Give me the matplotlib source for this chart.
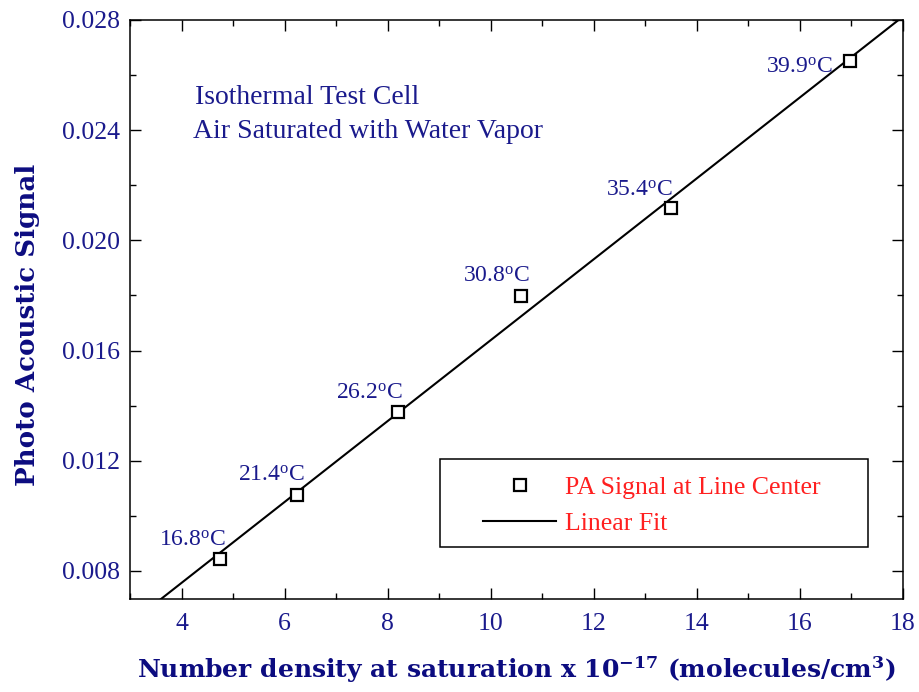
import numpy as np
import matplotlib.pyplot as plt
from matplotlib.ticker import MultipleLocator
from matplotlib.patches import Rectangle

plt.rcParams['mathtext.default'] = 'regular'

# saturation number density (x 1e17 molecules/cm^3) and PA signal
density = [4.75, 6.24, 8.21, 10.58, 13.49, 16.98]
signal = [0.00844, 0.01076, 0.01376, 0.01798, 0.02118, 0.02651]
temps = ['16.8', '21.4', '26.2', '30.8', '35.4', '39.9']

# label offsets in pixels from each point
offsets = [(6, 8), (8, 9), (4, 9), (9, 9), (2, 7), (-18, -17)]

navy = '#1a1a8c'
dark = '#0c0c80'
thin = 'Liberation Serif'

fig = plt.figure(figsize=(9.2, 6.92), dpi=100)
ax = fig.add_axes([0.1413, 0.1344, 0.8402, 0.8367])

# linear fit through the measured points
slope, icpt = np.polyfit(density, signal, 1)
xf = np.array([3.0, 18.0])
fit, = ax.plot(xf, slope * xf + icpt, color='black', lw=1.5, label='Linear Fit', zorder=2)
pts, = ax.plot(density, signal, ls='none', marker='s', ms=8, mfc='white', mec='black',
               mew=1.6, label='PA Signal at Line Center', zorder=3)

for x, y, t, (dx, dy) in zip(density, signal, temps, offsets):
    ax.annotate(t + '$^{o}$C', (x, y), xytext=(dx, dy), textcoords='offset pixels',
                ha='right', va='bottom', color=navy, family=thin, fontsize=17)

ax.text(0.084, 0.867, 'Isothermal Test Cell', transform=ax.transAxes,
        color=navy, family=thin, fontsize=20, va='center')
ax.text(0.081, 0.808, 'Air Saturated with Water Vapor', transform=ax.transAxes,
        color=navy, family=thin, fontsize=20, va='center')

ax.set_xlim(3, 18)
ax.set_ylim(0.00698, 0.028)
ax.xaxis.set_major_locator(MultipleLocator(2))
ax.xaxis.set_minor_locator(MultipleLocator(1))
ax.yaxis.set_major_locator(MultipleLocator(0.004))
ax.yaxis.set_minor_locator(MultipleLocator(0.002))
ax.yaxis.set_major_formatter(plt.FuncFormatter(lambda v, p: '%.3f' % v))

ax.tick_params(which='both', direction='in', top=True, right=True,
               labelcolor=navy, labelsize=18.5)
ax.tick_params(axis='x', pad=10)
ax.tick_params(axis='y', pad=7)
ax.tick_params(which='major', length=8, width=1)
ax.tick_params(which='minor', length=4.5, width=1)
for lab in ax.get_xticklabels() + ax.get_yticklabels():
    lab.set_family(thin)
for s in ax.spines.values():
    s.set_linewidth(1.1)

ax.set_xlabel('Number density at saturation x 10$^{-17}$ (molecules/cm$^{3}$)',
              family='DejaVu Serif', fontweight='bold', fontsize=18, color=dark,
              labelpad=14)
ax.set_ylabel('Photo Acoustic Signal', family='DejaVu Serif', fontweight='bold',
              fontsize=18.8, color=dark)
ax.yaxis.set_label_coords(-0.116, 0.473)

# legend box
ax.add_patch(Rectangle((0.401, 0.0898), 0.554, 0.152, transform=ax.transAxes,
                       fill=False, edgecolor='black', lw=1.1, zorder=4))
leg = ax.legend(handles=[pts, fit], loc='upper left', bbox_to_anchor=(0.440, 0.234),
                frameon=False, borderpad=0, handlelength=2.85, handletextpad=0.35,
                labelspacing=0.5, prop={'family': thin, 'size': 18.5})
for t in leg.get_texts():
    t.set_color('#ff2020')

fig.savefig('out.png', dpi=100)
